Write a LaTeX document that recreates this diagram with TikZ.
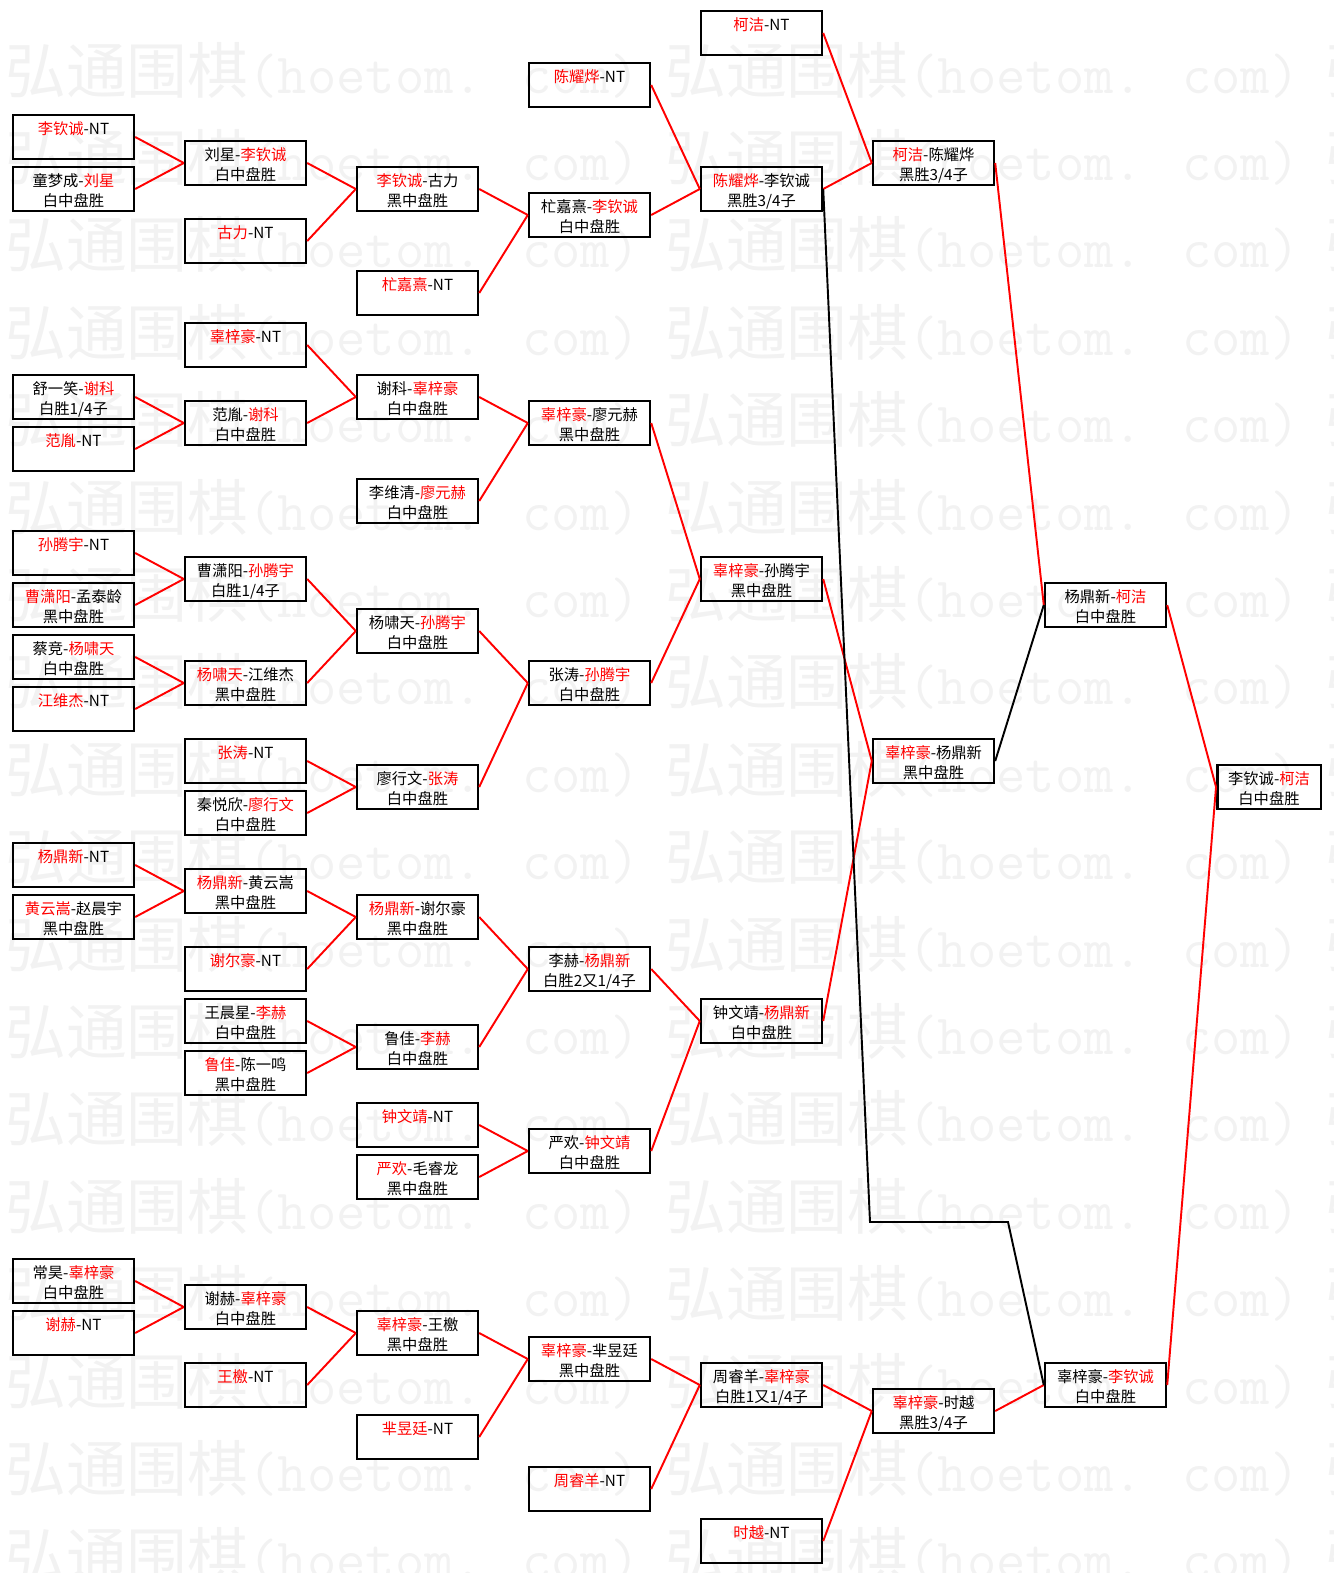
\documentclass[tikz,border=0pt]{standalone}
\usepackage{fontspec}
\setmainfont{Noto Sans CJK SC}
\newcommand\win[1]{\textcolor{red}{#1}}
\newcommand\two[2]{\raisebox{-10pt}[0pt][0pt]{\begin{tabular}[b]{@{}c@{}}#1\\\mbox{}#2\end{tabular}}}
\begin{document}
\begin{tikzpicture}[x=0.02cm,y=-0.02cm]
      \useasboundingbox (0,0) rectangle (1334,1573);
      \clip (0,0) rectangle (1334,1573);
      \tikzset{B/.style = {draw, line width=1.4pt, minimum width=2.42cm, minimum height=0.88cm, inner sep=0pt, font=\fontsize{8.7}{11.3}\selectfont}}
      \tikzset{L/.style = {draw=red, line width=1.1pt}}
      \tikzset{K/.style = {draw=black, line width=1.1pt}}
      \tikzset{WM/.style = {anchor=west, inner sep=0pt, text=black!5}}
      \foreach \r in {0,...,17}
        \foreach \c in {0,1,2}
          \node[WM] (wm-\r-\c) at (5+660*\c, 70+87.4*\r) {\fontsize{34.6}{36}\selectfont 弘通围棋\ttfamily\fontsize{32.4}{36}\selectfont(hoetom. com)};
      \node[B](a1) at (73.5,137) {\two{\win{李钦诚}-NT}{}};
      \node[B](a2) at (73.5,189) {\two{童梦成-\win{刘星}}{白中盘胜}};
      \node[B](a3) at (73.5,397) {\two{舒一笑-\win{谢科}}{白胜1/4子}};
      \node[B](a4) at (73.5,449) {\two{\win{范胤}-NT}{}};
      \node[B](a5) at (73.5,553) {\two{\win{孙腾宇}-NT}{}};
      \node[B](a6) at (73.5,605) {\two{\win{曹潇阳}-孟泰龄}{黑中盘胜}};
      \node[B](a7) at (73.5,657) {\two{蔡竞-\win{杨啸天}}{白中盘胜}};
      \node[B](a8) at (73.5,709) {\two{\win{江维杰}-NT}{}};
      \node[B](a9) at (73.5,865) {\two{\win{杨鼎新}-NT}{}};
      \node[B](a10) at (73.5,917) {\two{\win{黄云嵩}-赵晨宇}{黑中盘胜}};
      \node[B](a11) at (73.5,1281) {\two{常昊-\win{辜梓豪}}{白中盘胜}};
      \node[B](a12) at (73.5,1333) {\two{\win{谢赫}-NT}{}};
      \node[B](b1) at (245.5,163) {\two{刘星-\win{李钦诚}}{白中盘胜}};
      \node[B](b2) at (245.5,241) {\two{\win{古力}-NT}{}};
      \node[B](b3) at (245.5,345) {\two{\win{辜梓豪}-NT}{}};
      \node[B](b4) at (245.5,423) {\two{范胤-\win{谢科}}{白中盘胜}};
      \node[B](b5) at (245.5,579) {\two{曹潇阳-\win{孙腾宇}}{白胜1/4子}};
      \node[B](b6) at (245.5,683) {\two{\win{杨啸天}-江维杰}{黑中盘胜}};
      \node[B](b7) at (245.5,761) {\two{\win{张涛}-NT}{}};
      \node[B](b8) at (245.5,813) {\two{秦悦欣-\win{廖行文}}{白中盘胜}};
      \node[B](b9) at (245.5,891) {\two{\win{杨鼎新}-黄云嵩}{黑中盘胜}};
      \node[B](b10) at (245.5,969) {\two{\win{谢尔豪}-NT}{}};
      \node[B](b11) at (245.5,1021) {\two{王晨星-\win{李赫}}{白中盘胜}};
      \node[B](b12) at (245.5,1073) {\two{\win{鲁佳}-陈一鸣}{黑中盘胜}};
      \node[B](b13) at (245.5,1307) {\two{谢赫-\win{辜梓豪}}{白中盘胜}};
      \node[B](b14) at (245.5,1385) {\two{\win{王檄}-NT}{}};
      \node[B](c1) at (417.5,189) {\two{\win{李钦诚}-古力}{黑中盘胜}};
      \node[B](c2) at (417.5,293) {\two{\win{杧嘉熹}-NT}{}};
      \node[B](c3) at (417.5,397) {\two{谢科-\win{辜梓豪}}{白中盘胜}};
      \node[B](c4) at (417.5,501) {\two{李维清-\win{廖元赫}}{白中盘胜}};
      \node[B](c5) at (417.5,631) {\two{杨啸天-\win{孙腾宇}}{白中盘胜}};
      \node[B](c6) at (417.5,787) {\two{廖行文-\win{张涛}}{白中盘胜}};
      \node[B](c7) at (417.5,917) {\two{\win{杨鼎新}-谢尔豪}{黑中盘胜}};
      \node[B](c8) at (417.5,1047) {\two{鲁佳-\win{李赫}}{白中盘胜}};
      \node[B](c9) at (417.5,1125) {\two{\win{钟文靖}-NT}{}};
      \node[B](c10) at (417.5,1177) {\two{\win{严欢}-毛睿龙}{黑中盘胜}};
      \node[B](c11) at (417.5,1333) {\two{\win{辜梓豪}-王檄}{黑中盘胜}};
      \node[B](c12) at (417.5,1437) {\two{\win{芈昱廷}-NT}{}};
      \node[B](d1) at (589.5,85) {\two{\win{陈耀烨}-NT}{}};
      \node[B](d2) at (589.5,215) {\two{杧嘉熹-\win{李钦诚}}{白中盘胜}};
      \node[B](d3) at (589.5,423) {\two{\win{辜梓豪}-廖元赫}{黑中盘胜}};
      \node[B](d4) at (589.5,683) {\two{张涛-\win{孙腾宇}}{白中盘胜}};
      \node[B](d5) at (589.5,969) {\two{李赫-\win{杨鼎新}}{白胜2又1/4子}};
      \node[B](d6) at (589.5,1151) {\two{严欢-\win{钟文靖}}{白中盘胜}};
      \node[B](d7) at (589.5,1359) {\two{\win{辜梓豪}-芈昱廷}{黑中盘胜}};
      \node[B](d8) at (589.5,1489) {\two{\win{周睿羊}-NT}{}};
      \node[B](e1) at (761.5,33) {\two{\win{柯洁}-NT}{}};
      \node[B](e2) at (761.5,189) {\two{\win{陈耀烨}-李钦诚}{黑胜3/4子}};
      \node[B](e3) at (761.5,579) {\two{\win{辜梓豪}-孙腾宇}{黑中盘胜}};
      \node[B](e4) at (761.5,1021) {\two{钟文靖-\win{杨鼎新}}{白中盘胜}};
      \node[B](e5) at (761.5,1385) {\two{周睿羊-\win{辜梓豪}}{白胜1又1/4子}};
      \node[B](e6) at (761.5,1541) {\two{\win{时越}-NT}{}};
      \node[B](f1) at (933.5,163) {\two{\win{柯洁}-陈耀烨}{黑胜3/4子}};
      \node[B](f2) at (933.5,761) {\two{\win{辜梓豪}-杨鼎新}{黑中盘胜}};
      \node[B](f3) at (933.5,1411) {\two{\win{辜梓豪}-时越}{黑胜3/4子}};
      \node[B](g1) at (1105.5,605) {\two{杨鼎新-\win{柯洁}}{白中盘胜}};
      \node[B](g2) at (1105.5,1385) {\two{辜梓豪-\win{李钦诚}}{白中盘胜}};
      \node[B,minimum width=2.07cm](h1) at (1269,787) {\two{李钦诚-\win{柯洁}}{白中盘胜}};
      \coordinate (k1) at (870,1222);
      \coordinate (k2) at (1008,1222);
      \draw[L](a1.east) to (b1.west);
      \draw[L](a2.east) to (b1.west);
      \draw[L](a3.east) to (b4.west);
      \draw[L](a4.east) to (b4.west);
      \draw[L](a5.east) to (b5.west);
      \draw[L](a6.east) to (b5.west);
      \draw[L](a7.east) to (b6.west);
      \draw[L](a8.east) to (b6.west);
      \draw[L](a9.east) to (b9.west);
      \draw[L](a10.east) to (b9.west);
      \draw[L](a11.east) to (b13.west);
      \draw[L](a12.east) to (b13.west);
      \draw[L](b1.east) to (c1.west);
      \draw[L](b2.east) to (c1.west);
      \draw[L](b3.east) to (c3.west);
      \draw[L](b4.east) to (c3.west);
      \draw[L](b5.east) to (c5.west);
      \draw[L](b6.east) to (c5.west);
      \draw[L](b7.east) to (c6.west);
      \draw[L](b8.east) to (c6.west);
      \draw[L](b9.east) to (c7.west);
      \draw[L](b10.east) to (c7.west);
      \draw[L](b11.east) to (c8.west);
      \draw[L](b12.east) to (c8.west);
      \draw[L](b13.east) to (c11.west);
      \draw[L](b14.east) to (c11.west);
      \draw[L](c1.east) to (d2.west);
      \draw[L](c2.east) to (d2.west);
      \draw[L](c3.east) to (d3.west);
      \draw[L](c4.east) to (d3.west);
      \draw[L](c5.east) to (d4.west);
      \draw[L](c6.east) to (d4.west);
      \draw[L](c7.east) to (d5.west);
      \draw[L](c8.east) to (d5.west);
      \draw[L](c9.east) to (d6.west);
      \draw[L](c10.east) to (d6.west);
      \draw[L](c11.east) to (d7.west);
      \draw[L](c12.east) to (d7.west);
      \draw[L](d1.east) to (e2.west);
      \draw[L](d2.east) to (e2.west);
      \draw[L](d3.east) to (e3.west);
      \draw[L](d4.east) to (e3.west);
      \draw[L](d5.east) to (e4.west);
      \draw[L](d6.east) to (e4.west);
      \draw[L](d7.east) to (e5.west);
      \draw[L](d8.east) to (e5.west);
      \draw[L](e1.east) to (f1.west);
      \draw[L](e2.east) to (f1.west);
      \draw[L](e3.east) to (f2.west);
      \draw[L](e4.east) to (f2.west);
      \draw[L](e5.east) to (f3.west);
      \draw[L](e6.east) to (f3.west);
      \draw[L](f1.east) to (g1.west);
      \draw[K](f2.east) to (g1.west);
      \draw[L](f3.east) to (g2.west);
      \draw[K](e2.east) -- (k1) -- (k2) -- (g2.west);
      \draw[L](g1.east) to (h1.west);
      \draw[L](g2.east) to (h1.west);
\end{tikzpicture}
\end{document}
